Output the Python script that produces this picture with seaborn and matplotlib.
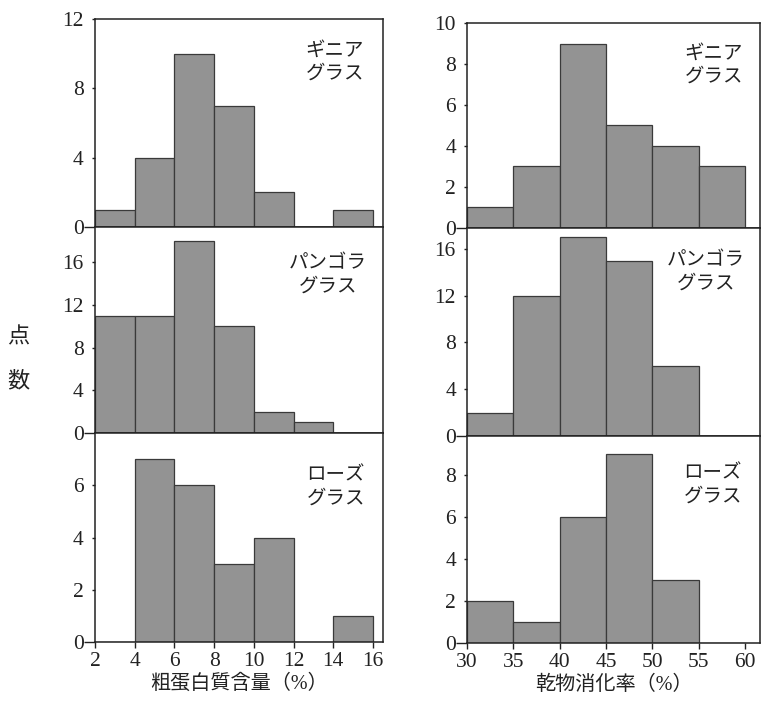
import matplotlib
matplotlib.use("Agg")
import matplotlib.pyplot as plt
import numpy as np
import seaborn as sns

# bins
cp_edges = [2, 4, 6, 8, 10, 12, 14, 16]          # crude protein (%)
dm_edges = [30, 35, 40, 45, 50, 55, 60]          # dry matter digestibility (%)

# counts
cp_guinea = [1, 4, 10, 7, 2, 0, 1]
cp_pangola = [11, 11, 18, 10, 2, 1, 0]
cp_rhodes = [0, 7, 6, 3, 4, 0, 1]

dm_guinea = [1, 3, 9, 5, 4, 3]
dm_pangola = [2, 12, 17, 15, 6, 0]
dm_rhodes = [2, 1, 6, 9, 3, 0]

grass_labels = ["ギニア\nグラス", "パンゴラ\nグラス", "ローズ\nグラス"]
cp_xlabel = "粗蛋白質含量（%）"
dm_xlabel = "乾物消化率（%）"
y_label = "点\n数"

sns.set_style("ticks")
plt.rcParams["font.family"] = ["Liberation Serif", "Noto Sans CJK JP", "DejaVu Sans"]

fig = plt.figure(figsize=(7.66, 7.08), dpi=100)

# panel rectangles (figure fractions)
left_rects = [
    [0.124, 0.6794, 0.376, 0.2938],
    [0.124, 0.3884, 0.376, 0.2910],
    [0.124, 0.0932, 0.376, 0.2952],
]
right_rects = [
    [0.6097, 0.678, 0.3825, 0.2895],
    [0.6097, 0.3842, 0.3825, 0.2938],
    [0.6097, 0.0918, 0.3825, 0.2924],
]

panels = [
    (left_rects[0], cp_edges, cp_guinea, (2, 16.5), (0, 12), [0, 4, 8, 12], grass_labels[0], (0.935, 0.89)),
    (left_rects[1], cp_edges, cp_pangola, (2, 16.5), (0, 19.3), [0, 4, 8, 12, 16], grass_labels[1], (0.944, 0.865)),
    (left_rects[2], cp_edges, cp_rhodes, (2, 16.5), (0, 8.0), [0, 2, 4, 6], grass_labels[2], (0.938, 0.835)),
    (right_rects[0], dm_edges, dm_guinea, (30, 61.6), (0, 10), [0, 2, 4, 6, 8, 10], grass_labels[0], (0.942, 0.893)),
    (right_rects[1], dm_edges, dm_pangola, (30, 61.6), (0, 17.8), [0, 4, 8, 12, 16], grass_labels[1], (0.949, 0.885)),
    (right_rects[2], dm_edges, dm_rhodes, (30, 61.6), (0, 9.85), [0, 2, 4, 6, 8], grass_labels[2], (0.939, 0.86)),
]

bar_color = "#939393"
edge_color = "#3a3a3a"

for i, (rect, edges, counts, xlim, ylim, yticks, label, tpos) in enumerate(panels):
    ax = fig.add_axes(rect)
    centers = (np.array(edges[:-1]) + np.array(edges[1:])) / 2
    sns.histplot(
        x=centers,
        weights=counts,
        bins=edges,
        color=bar_color,
        edgecolor=edge_color,
        linewidth=0.9,
        alpha=1,
        ax=ax,
    )
    ax.set_xlim(*xlim)
    ax.set_ylim(*ylim)
    ax.set_yticks(yticks)
    ax.set_ylabel("")
    ax.set_xlabel("")
    for s in ax.spines.values():
        s.set_visible(True)
        s.set_linewidth(1.1)
        s.set_color("#222222")
    ax.tick_params(axis="y", direction="out", length=2, width=1, pad=6,
                   labelsize=15.5, colors="#222222")
    # long tick at zero, the baseline runs out to the label
    ax.yaxis.get_major_ticks()[0].tick1line.set_markersize(8)

    bottom_row = i in (2, 5)
    if bottom_row:
        ax.set_xticks(edges)
        ax.tick_params(axis="x", direction="out", length=4, width=1, pad=3,
                       labelsize=15.5, colors="#222222")
        ax.set_xlabel(cp_xlabel if i == 2 else dm_xlabel, fontsize=14.5,
                      labelpad=3, color="#222222")
    else:
        ax.set_xticks(edges)
        ax.tick_params(axis="x", length=0, labelbottom=False)

    ax.text(tpos[0], tpos[1], label, transform=ax.transAxes, ha="right",
            va="top", multialignment="center", fontsize=14, linespacing=1.4,
            color="#222222")

fig.text(0.024, 0.4915, y_label, ha="center", va="center", fontsize=16,
         linespacing=2.5, color="#222222")

fig.savefig("out.png", dpi=100)
